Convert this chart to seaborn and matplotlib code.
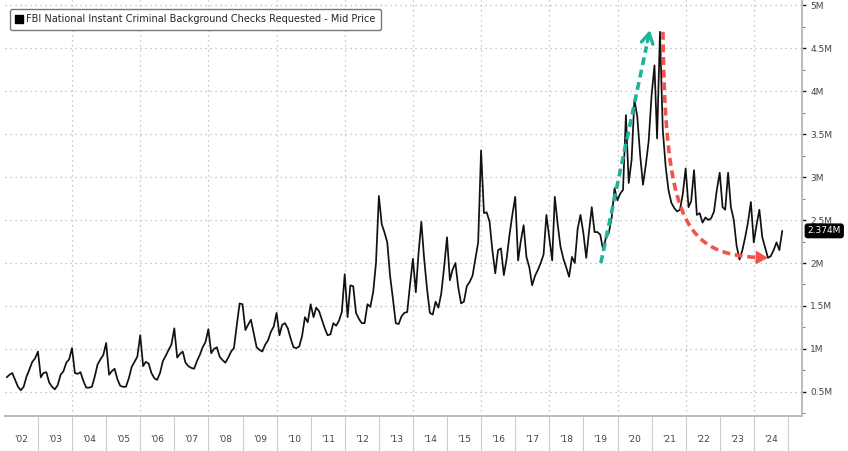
import numpy as np
import pandas as pd
import matplotlib
matplotlib.use("Agg")
import matplotlib.pyplot as plt
import matplotlib.dates as mdates
from matplotlib.lines import Line2D
from matplotlib.ticker import FixedLocator
from datetime import datetime
import seaborn as sns

# ---- data (monthly, millions of checks) ----
y2002 = [0.67, 0.70, 0.72, 0.64, 0.56, 0.52, 0.56, 0.68, 0.76, 0.85, 0.89, 0.97]
y2003 = [0.67, 0.72, 0.73, 0.61, 0.56, 0.53, 0.58, 0.70, 0.74, 0.84, 0.88, 1.01]
y2004 = [0.72, 0.71, 0.73, 0.63, 0.55, 0.55, 0.56, 0.68, 0.82, 0.88, 0.93, 1.07]
y2005 = [0.70, 0.74, 0.77, 0.65, 0.57, 0.56, 0.56, 0.66, 0.79, 0.85, 0.91, 1.16]
y2006 = [0.80, 0.85, 0.83, 0.72, 0.66, 0.64, 0.72, 0.86, 0.92, 0.99, 1.05, 1.24]
y2007 = [0.90, 0.94, 0.97, 0.84, 0.80, 0.78, 0.77, 0.86, 0.93, 1.02, 1.08, 1.23]
y2008 = [0.95, 1.00, 1.02, 0.91, 0.87, 0.84, 0.90, 0.97, 1.01, 1.28, 1.53, 1.52]
y2009 = [1.22, 1.28, 1.34, 1.18, 1.02, 0.99, 0.97, 1.05, 1.10, 1.20, 1.26, 1.42]
y2010 = [1.16, 1.28, 1.30, 1.24, 1.12, 1.02, 1.01, 1.03, 1.15, 1.37, 1.31, 1.52]
y2011 = [1.37, 1.48, 1.44, 1.34, 1.24, 1.16, 1.17, 1.30, 1.27, 1.33, 1.43, 1.87]
y2012 = [1.37, 1.74, 1.73, 1.42, 1.35, 1.30, 1.30, 1.52, 1.49, 1.66, 2.00, 2.78]
y2013 = [2.45, 2.36, 2.24, 1.85, 1.58, 1.30, 1.29, 1.38, 1.42, 1.43, 1.75, 2.05]
y2014 = [1.66, 2.10, 2.48, 2.05, 1.70, 1.42, 1.40, 1.55, 1.48, 1.65, 1.95, 2.30]
y2015 = [1.80, 1.92, 2.00, 1.72, 1.53, 1.55, 1.73, 1.78, 1.85, 2.05, 2.24, 3.31]
y2016 = [2.58, 2.59, 2.48, 2.15, 1.88, 2.15, 2.17, 1.86, 2.05, 2.33, 2.56, 2.77]
y2017 = [2.03, 2.25, 2.44, 2.07, 1.95, 1.74, 1.85, 1.92, 2.00, 2.10, 2.56, 2.30]
y2018 = [2.03, 2.77, 2.45, 2.19, 2.05, 1.95, 1.84, 2.07, 2.00, 2.40, 2.56, 2.35]
y2019 = [2.06, 2.35, 2.65, 2.36, 2.36, 2.33, 2.15, 2.30, 2.35, 2.53, 2.87, 2.73]
y2020 = [2.81, 2.85, 3.72, 2.93, 3.20, 3.90, 3.70, 3.25, 2.91, 3.15, 3.42, 3.95]
y2021 = [4.30, 3.45, 4.69, 3.55, 3.12, 2.85, 2.70, 2.64, 2.60, 2.62, 2.80, 3.10]
y2022 = [2.65, 2.72, 3.08, 2.56, 2.58, 2.47, 2.53, 2.50, 2.52, 2.60, 2.85, 3.05]
y2023 = [2.65, 2.62, 3.05, 2.65, 2.50, 2.20, 2.04, 2.15, 2.30, 2.48, 2.71, 2.24]
y2024 = [2.45, 2.62, 2.30, 2.18, 2.06, 2.08, 2.15, 2.24, 2.15, 2.374]

year_labels = ["'02", "'03", "'04", "'05", "'06", "'07", "'08", "'09", "'10", "'11", "'12",
               "'13", "'14", "'15", "'16", "'17", "'18", "'19", "'20", "'21", "'22", "'23", "'24"]
y_ticks = [0.5, 1.0, 1.5, 2.0, 2.5, 3.0, 3.5, 4.0, 4.5, 5.0]
y_tick_labels = ["0.5M", "1M", "1.5M", "2M", "2.5M", "3M", "3.5M", "4M", "4.5M", "5M"]
series_name = "FBI National Instant Criminal Background Checks Requested - Mid Price"
last_label = "2.374M"

values = np.concatenate([y2002, y2003, y2004, y2005, y2006, y2007, y2008, y2009, y2010,
                         y2011, y2012, y2013, y2014, y2015, y2016, y2017, y2018, y2019,
                         y2020, y2021, y2022, y2023, y2024])
dates = pd.date_range("2002-01-31", periods=len(values), freq="ME")
df = pd.DataFrame({"date": dates, "checks": values})


def dnum(t):
    y = int(t)
    return mdates.date2num(datetime(y, 1, 1)) + (t - y) * 365.25


sns.set_theme(style="white")
plt.rcParams['font.family'] = ['DejaVu Sans']

W, H = 848, 451
fig = plt.figure(figsize=(W / 100, H / 100), dpi=100)
ax = fig.add_axes([5 / W, 1 - 416 / H, 797 / W, 416 / H])

sns.lineplot(data=df, x="date", y="checks", ax=ax, color="#111111", lw=1.25, legend=False)

ax.set_xlim(dnum(2002.03), dnum(2025.41))
ax.set_ylim(0.22, 5.06)
ax.set_xlabel("")
ax.set_ylabel("")

# y axis on the right
ax.yaxis.tick_right()
ax.yaxis.set_label_position("right")
ax.set_yticks(y_ticks)
ax.set_yticklabels(y_tick_labels)
ax.set_yticks(np.arange(0.25, 5.0, 0.5), minor=True)
ax.tick_params(axis='y', which='major', direction='out', length=3, width=1.0,
               color='#222222', labelsize=6.5, labelcolor='#444444', pad=3,
               right=True, left=False)
ax.tick_params(axis='y', which='minor', direction='out', length=2, width=0.8,
               color='#888888', right=True, left=False)

# x axis: year labels mid-year, separators at year boundaries
years = list(range(2002, 2025))
ax.xaxis.set_major_locator(FixedLocator([dnum(y + 0.5) for y in years]))
ax.set_xticklabels(year_labels)
ax.xaxis.set_minor_locator(FixedLocator([dnum(y) for y in range(2003, 2026)]))
ax.tick_params(axis='x', which='major', bottom=True, length=0, labelsize=6.5,
               labelcolor='#444444', pad=14)
ax.tick_params(axis='x', which='minor', bottom=True, direction='out', length=27, width=0.8,
               color='#cccccc')

# grid
ax.yaxis.grid(True, which='major', linestyle=(0, (1, 3)), color='#b5b5b5', lw=0.9)
ax.xaxis.grid(False)
for y in range(2004, 2025, 2):
    ax.axvline(dnum(y), linestyle=(0, (1, 3)), color='#b5b5b5', lw=0.9, zorder=0)

for s in ['top', 'left']:
    ax.spines[s].set_visible(False)
for s in ['bottom', 'right']:
    ax.spines[s].set_color('#bbbbbb')
    ax.spines[s].set_linewidth(1.4)

# legend
handle = Line2D([], [], marker='s', color='black', linestyle='none', markersize=6)
leg = ax.legend([handle], [series_name], loc='upper left', bbox_to_anchor=(5 / 797, 1 - 9 / 416),
                borderaxespad=0, fontsize=7, frameon=True, fancybox=True, handlelength=0.8,
                handletextpad=0.3, borderpad=0.55)
leg.get_frame().set_edgecolor('#555555')
leg.get_frame().set_linewidth(1.0)
leg.get_frame().set_facecolor('white')

# last value tag
ax.annotate(last_label, xy=(1, values[-1]), xycoords=('axes fraction', 'data'),
            xytext=(4, 0), textcoords='offset points', va='center', ha='left',
            fontsize=6.5, color='white', annotation_clip=False,
            bbox=dict(boxstyle='round,pad=0.25', fc='black', ec='black'))

# annotation arrows
green = '#1fb39a'
red = '#f2544b'
dash = (0, (2.2, 1.3))

g0 = (2019.51, 2.00)
g1 = (2020.95, 4.71)
gt = np.linspace(0, 0.93, 50)
gx = [dnum(g0[0] + (g1[0] - g0[0]) * t) for t in gt]
gy = [g0[1] + (g1[1] - g0[1]) * t for t in gt]
ax.plot(gx, gy, color=green, lw=2.6, linestyle=dash, solid_capstyle='butt', zorder=4)
ax.annotate("", xy=(dnum(g1[0]), g1[1]),
            xytext=(dnum(g0[0] + (g1[0] - g0[0]) * 0.95), g0[1] + (g1[1] - g0[1]) * 0.95),
            arrowprops=dict(arrowstyle='->,head_length=0.6,head_width=0.35', color=green,
                            lw=2.4, shrinkA=0, shrinkB=0, mutation_scale=12), zorder=4)

p0 = np.array([2021.33, 4.69])
p1 = np.array([2021.40, 2.40])
p2 = np.array([2022.00, 2.08])
p3 = np.array([2024.41, 2.06])


def bez(t):
    return ((1 - t) ** 3) * p0 + 3 * ((1 - t) ** 2) * t * p1 + 3 * (1 - t) * t ** 2 * p2 + t ** 3 * p3


rt = np.linspace(0, 0.97, 200)
pts = np.array([bez(t) for t in rt])
ax.plot([dnum(v) for v in pts[:, 0]], pts[:, 1], color=red, lw=2.6, linestyle=dash,
        solid_capstyle='butt', zorder=4)
pe = bez(1.0)
pb = bez(0.98)
ax.annotate("", xy=(dnum(pe[0]), pe[1]), xytext=(dnum(pb[0]), pb[1]),
            arrowprops=dict(arrowstyle='-|>,head_length=0.6,head_width=0.35', color=red,
                            lw=1.5, shrinkA=0, shrinkB=0, mutation_scale=11), zorder=4)

fig.savefig("out.png", dpi=100)
